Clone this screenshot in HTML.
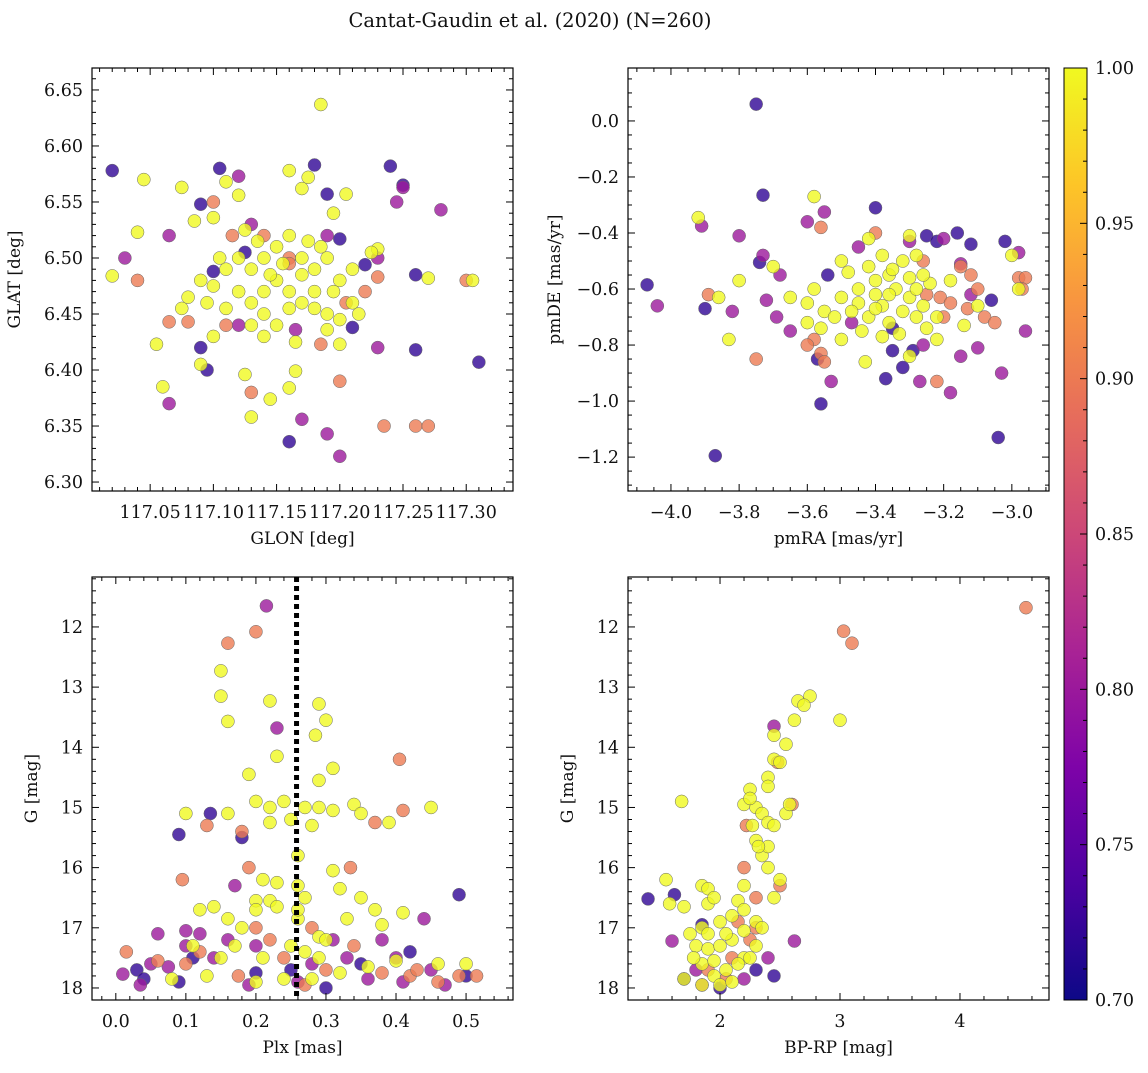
<!DOCTYPE html>
<html><head><meta charset="utf-8"><style>
body{margin:0;background:#fff}
svg text{font-family:"DejaVu Serif","Liberation Serif",serif;fill:#111}
</style></head><body>
<svg id="fig" width="1148" height="1068" viewBox="0 0 1148 1068">
<defs><linearGradient id="plasma" x1="0" y1="1" x2="0" y2="0">
<stop offset="0" stop-color="#0d0887"/><stop offset="0.125" stop-color="#4c02a1"/><stop offset="0.25" stop-color="#7e03a8"/><stop offset="0.375" stop-color="#a92395"/><stop offset="0.5" stop-color="#cc4778"/><stop offset="0.625" stop-color="#e66c5c"/><stop offset="0.75" stop-color="#f89540"/><stop offset="0.875" stop-color="#fdc527"/><stop offset="1" stop-color="#f0f921"/></linearGradient></defs>
<text x="530" y="27" text-anchor="middle" font-size="19.5">Cantat-Gaudin et al. (2020) (N=260)</text>
</svg>
<script>
// ---- Panel 1: GLON / GLAT ----
const p1Blue=[[117.02,6.578],[117.105,6.580],[117.18,6.583],[117.24,6.582],[117.25,6.565],[117.26,6.485],[117.31,6.407],[117.26,6.418],[117.16,6.336],[117.20,6.517],[117.21,6.438],[117.09,6.548],[117.10,6.488],[117.125,6.505],[117.19,6.557],[117.22,6.494],[117.09,6.42],[117.095,6.40]];
const p1Purple=[[117.03,6.50],[117.23,6.50],[117.245,6.55],[117.165,6.436],[117.17,6.356],[117.19,6.343],[117.20,6.323],[117.25,6.563],[117.12,6.573],[117.13,6.53],[117.065,6.52],[117.065,6.37],[117.12,6.44],[117.23,6.42],[117.28,6.543],[117.19,6.52]];
const p1Salmon=[[117.04,6.48],[117.065,6.443],[117.11,6.44],[117.13,6.38],[117.185,6.423],[117.20,6.39],[117.235,6.35],[117.26,6.35],[117.27,6.35],[117.30,6.48],[117.23,6.483],[117.16,6.50],[117.14,6.52],[117.115,6.52],[117.205,6.46],[117.22,6.47],[117.10,6.55],[117.08,6.443],[117.16,6.495]];
const p1Yellow=[[117.185,6.637],[117.045,6.57],[117.02,6.484],[117.04,6.523],[117.075,6.563],[117.085,6.533],[117.055,6.423],[117.06,6.385],[117.09,6.405],[117.1,6.43],[117.125,6.396],[117.13,6.358],[117.145,6.374],[117.16,6.384],[117.165,6.399],[117.2,6.423],[117.19,6.436],[117.305,6.48],[117.27,6.482],[117.23,6.508],[117.16,6.578],[117.17,6.562],[117.175,6.572],[117.195,6.54],[117.205,6.557],[117.12,6.556],[117.11,6.568],[117.1,6.536],[117.075,6.455],[117.08,6.465],
[117.12,6.50],[117.13,6.49],[117.14,6.50],[117.15,6.51],[117.16,6.52],[117.17,6.50],[117.18,6.49],[117.19,6.50],[117.2,6.48],[117.21,6.46],[117.12,6.47],[117.13,6.46],[117.14,6.47],[117.15,6.48],[117.16,6.47],[117.17,6.46],[117.18,6.47],[117.19,6.45],[117.14,6.45],[117.15,6.44],[117.13,6.44],[117.16,6.455],[117.17,6.485],[117.155,6.495],[117.145,6.485],[117.135,6.515],[117.125,6.525],[117.175,6.515],[117.185,6.51],[117.195,6.47],[117.11,6.49],[117.105,6.50],[117.09,6.48],[117.095,6.46],[117.21,6.49],[117.215,6.45],[117.225,6.505],[117.14,6.43],[117.165,6.425],[117.18,6.455],[117.2,6.445],[117.11,6.455],[117.1,6.475]];
// ---- Panel 2: pmRA / pmDE ----
const p2Blue=[[-3.75,0.06],[-4.07,-0.585],[-3.87,-1.195],[-3.56,-1.01],[-3.04,-1.13],[-3.73,-0.265],[-3.4,-0.31],[-3.74,-0.505],[-3.9,-0.67],[-3.54,-0.55],[-3.35,-0.82],[-3.37,-0.92],[-3.32,-0.88],[-3.25,-0.41],[-3.22,-0.43],[-3.16,-0.4],[-3.12,-0.44],[-3.02,-0.43],[-3.06,-0.64],[-3.29,-0.82],[-3.57,-0.85],[-3.35,-0.74]];
const p2Purple=[[-3.91,-0.375],[-3.6,-0.36],[-3.55,-0.325],[-3.8,-0.41],[-3.73,-0.48],[-3.68,-0.55],[-3.72,-0.64],[-3.69,-0.70],[-3.65,-0.75],[-3.53,-0.93],[-3.45,-0.45],[-3.3,-0.43],[-3.2,-0.42],[-3.15,-0.51],[-3.12,-0.62],[-3.1,-0.81],[-3.03,-0.9],[-2.98,-0.47],[-2.96,-0.75],[-3.18,-0.97],[-3.82,-0.68],[-4.04,-0.66],[-3.27,-0.93],[-3.15,-0.84],[-3.47,-0.72],[-3.26,-0.8]];
const p2Salmon=[[-3.89,-0.62],[-3.75,-0.85],[-3.56,-0.83],[-3.56,-0.38],[-3.4,-0.4],[-3.58,-0.78],[-3.6,-0.8],[-3.55,-0.86],[-3.22,-0.93],[-3.2,-0.7],[-3.15,-0.52],[-3.12,-0.55],[-3.1,-0.6],[-3.08,-0.7],[-3.05,-0.72],[-2.98,-0.56],[-2.96,-0.56],[-2.97,-0.6],[-3.21,-0.63],[-3.18,-0.65],[-3.25,-0.62],[-3.13,-0.67],[-3.26,-0.5]];
const p2Yellow=[[-3.92,-0.345],[-3.58,-0.27],[-3.83,-0.78],[-3.8,-0.57],[-3.86,-0.63],[-3.7,-0.52],[-3.65,-0.63],[-3.6,-0.65],[-3.58,-0.6],[-3.55,-0.68],[-3.6,-0.72],[-3.56,-0.74],[-3.5,-0.5],[-3.48,-0.54],[-3.45,-0.6],[-3.42,-0.42],[-3.38,-0.48],[-3.36,-0.55],[-3.0,-0.48],[-2.98,-0.6],[-3.14,-0.73],[-3.22,-0.78],[-3.28,-0.48],[-3.3,-0.41],[-3.5,-0.78],[-3.43,-0.86],[-3.3,-0.84],
[-3.45,-0.65],[-3.42,-0.7],[-3.4,-0.62],[-3.38,-0.66],[-3.36,-0.72],[-3.34,-0.6],[-3.32,-0.68],[-3.3,-0.63],[-3.28,-0.7],[-3.26,-0.66],[-3.24,-0.58],[-3.22,-0.7],[-3.4,-0.57],[-3.35,-0.53],[-3.3,-0.56],[-3.44,-0.75],[-3.38,-0.77],[-3.33,-0.76],[-3.28,-0.6],[-3.47,-0.68],[-3.5,-0.63],[-3.25,-0.74],[-3.42,-0.52],[-3.36,-0.62],[-3.18,-0.57],[-3.32,-0.5],[-3.26,-0.55],[-3.4,-0.67],[-3.1,-0.66],[-3.52,-0.7]];
// ---- Panel 3: Plx / G ----
const p3Blue=[[0.09,15.45],[0.135,15.1],[0.03,17.7],[0.04,17.85],[0.11,17.5],[0.2,17.75],[0.25,17.7],[0.49,16.45],[0.5,17.8],[0.42,17.4],[0.18,15.5],[0.35,17.6],[0.3,18.0],[0.09,17.9]];
const p3Purple=[[0.215,11.65],[0.23,13.68],[0.01,17.77],[0.035,17.95],[0.05,17.6],[0.075,17.65],[0.1,17.05],[0.1,17.3],[0.12,17.1],[0.14,17.5],[0.16,17.2],[0.2,17.3],[0.26,17.9],[0.33,17.5],[0.38,17.2],[0.41,17.9],[0.44,16.85],[0.47,17.95],[0.45,17.7],[0.17,16.3],[0.31,17.2],[0.28,17.6],[0.36,17.85],[0.4,17.5],[0.19,17.95],[0.06,17.1]];
const p3Salmon=[[0.16,12.27],[0.2,12.08],[0.405,14.2],[0.13,15.3],[0.18,15.4],[0.19,16.0],[0.095,16.2],[0.335,16.0],[0.37,15.25],[0.41,15.05],[0.015,17.4],[0.06,17.55],[0.1,17.6],[0.12,17.4],[0.2,17.0],[0.24,17.5],[0.27,17.95],[0.3,17.7],[0.34,17.3],[0.38,17.75],[0.42,17.8],[0.46,17.9],[0.49,17.8],[0.515,17.8],[0.22,17.2],[0.28,17.0],[0.175,17.8],[0.43,17.7]];
const p3Yellow=[[0.22,13.23],[0.15,13.15],[0.16,13.57],[0.15,12.73],[0.29,13.28],[0.3,13.55],[0.285,13.8],[0.23,14.15],[0.31,14.35],[0.19,14.45],[0.29,14.55],[0.24,14.9],[0.2,14.9],[0.22,15.0],[0.27,15.0],[0.29,15.0],[0.31,15.05],[0.34,14.95],[0.35,15.1],[0.45,15.0],[0.39,15.25],[0.1,15.1],[0.16,15.1],[0.22,15.25],[0.25,15.2],[0.28,15.3],[0.26,15.8],[0.31,16.05],[0.23,16.25],[0.21,16.2],[0.26,16.3],[0.22,16.55],[0.2,16.55],[0.27,16.5],[0.32,16.35],[0.35,16.5],[0.37,16.7],[0.41,16.75],[0.14,16.65],[0.12,16.7],[0.16,16.85],[0.18,17.0],[0.26,16.85],[0.29,17.15],[0.33,16.85],[0.38,16.95],[0.46,17.6],[0.5,17.6],[0.08,17.85],[0.13,17.8],[0.2,17.9],[0.24,17.85],[0.28,17.85],[0.29,17.5],[0.32,17.75],[0.36,17.65],[0.40,17.55],[0.17,17.3],[0.25,17.3],[0.21,17.5],[0.27,17.4],[0.3,17.2],[0.15,17.5],[0.11,17.3],[0.2,16.7],[0.23,16.65],[0.26,16.7]];
// ---- Panel 4: BP-RP / G ----
const p4Blue=[[1.4,16.52],[1.62,16.45],[1.85,16.95],[2.45,17.8],[2.3,17.7],[2.0,18.0],[1.7,17.85]];
const p4Purple=[[2.45,13.65],[2.62,17.22],[1.6,17.22],[2.4,17.5],[1.85,17.95],[1.8,17.7],[2.2,17.85]];
const p4Salmon=[[4.55,11.68],[3.03,12.07],[3.1,12.27],[2.48,14.25],[2.6,14.95],[2.22,15.3],[2.2,16.0],[2.3,16.5],[2.5,16.3],[2.15,16.9],[2.1,17.5],[2.3,17.0],[1.9,17.7],[2.05,17.85],[2.25,17.2]];
const p4Yellow=[[2.65,13.23],[2.75,13.15],[2.7,13.3],[2.62,13.55],[3.0,13.55],[2.45,13.8],[2.55,13.95],[2.45,14.2],[2.5,14.25],[2.4,14.5],[2.4,14.65],[2.25,14.7],[2.2,14.95],[2.3,15.0],[2.35,15.1],[2.4,15.25],[2.45,15.3],[2.55,15.1],[2.58,14.95],[1.68,14.9],[2.4,16.0],[2.5,16.2],[2.45,16.5],[2.2,16.3],[2.15,16.55],[2.2,16.7],[1.55,16.2],[1.58,16.6],[1.7,16.65],[1.85,16.3],[1.9,16.35],[1.9,16.6],[1.95,16.5],[2.1,16.8],[2.0,16.9],[2.3,16.9],[2.35,17.0],[2.3,17.3],[1.85,17.0],[1.75,17.1],[1.8,17.3],[1.9,17.35],[2.0,17.3],[2.1,17.2],[2.2,17.5],[1.7,17.85],[1.85,17.6],[1.95,17.8],[2.05,17.7],[2.15,17.6],[1.85,17.95],[2.0,17.95],[1.78,17.5],[1.95,17.55],[2.1,17.9],[2.25,17.5],[1.9,17.1],[2.05,17.1],[2.2,17.05],[2.27,15.3],[2.3,15.55],[2.35,15.8],[2.4,15.65],[2.25,14.85],[2.32,15.65]];
const probLevels=[0.72,0.80,0.90,1.0];
const plxLine=0.258;
const cbTicks=["0.70","0.75","0.80","0.85","0.90","0.95","1.00"];

const NS="http://www.w3.org/2000/svg";
const svg=document.getElementById('fig');
function mk(t,a,p){const e=document.createElementNS(NS,t);for(const k in a)e.setAttribute(k,a[k]);(p||svg).appendChild(e);return e;}
const stops=[[0,[13,8,135]],[0.125,[76,2,161]],[0.25,[126,3,168]],[0.375,[169,35,149]],[0.5,[204,71,120]],[0.625,[230,108,92]],[0.75,[248,149,64]],[0.875,[253,197,39]],[1,[240,249,33]]];
function plasma(p){let t=(p-0.7)/0.3;t=Math.max(0,Math.min(1,t));for(let i=1;i<stops.length;i++){if(t<=stops[i][0]){const a=stops[i-1],b=stops[i];const f=(t-a[0])/(b[0]-a[0]);const c=a[1].map((v,j)=>Math.round(v+(b[1][j]-v)*f));return `rgb(${c})`;}}return 'rgb(240,249,33)';}

const TF=17.5, AF=17;
function panel(o){
  const {x0,x1,y0,y1,xmin,xmax,ymin,ymax,inv,name}=o;
  const g=mk('g',{});
  
  
  const sx=v=>x0+(v-xmin)/(xmax-xmin)*(x1-x0);
  const sy=v=>inv? y0+(v-ymin)/(ymax-ymin)*(y1-y0) : y1-(v-ymin)/(ymax-ymin)*(y1-y0);
  const sets=o.series;
  sets.forEach((s,si)=>{const col=plasma(probLevels[si]);s.forEach(d=>{
    const c=mk('circle',{cx:sx(d[0]),cy:sy(d[1]),r:6.5,fill:col,'fill-opacity':0.8,stroke:'#666','stroke-width':0.5},g);
    
    
  });});
  if(o.vline!==undefined){const l=mk('line',{x1:sx(o.vline),x2:sx(o.vline),y1:y0,y2:y1,stroke:'#000','stroke-width':5,'stroke-dasharray':'5,4'},g);
    }
  mk('rect',{x:x0,y:y0,width:x1-x0,height:y1-y0,fill:'none',stroke:'#000','stroke-width':1.2},g);
  const eps=1e-9;
  for(let v=Math.ceil(xmin/o.xminor-eps)*o.xminor;v<=xmax+eps;v+=o.xminor){const X=sx(v);
    const major=Math.abs(v/o.xmajor-Math.round(v/o.xmajor))<1e-6;const L=major?7:4;
    mk('line',{x1:X,x2:X,y1:y1,y2:y1-L,stroke:'#000','stroke-width':1},g);mk('line',{x1:X,x2:X,y1:y0,y2:y0+L,stroke:'#000','stroke-width':1},g);}
  o.xlabels.forEach(v=>{const t=mk('text',{x:sx(v),y:y1+27,'text-anchor':'middle','font-size':TF},g);t.textContent=v.toFixed(o.xdec).replace('-','\u2212');
    });
  for(let v=Math.ceil(ymin/o.yminor-eps)*o.yminor;v<=ymax+eps;v+=o.yminor){const Y=sy(v);
    const major=Math.abs(v/o.ymajor-Math.round(v/o.ymajor))<1e-6;const L=major?7:4;
    mk('line',{x1:x0,x2:x0+L,y1:Y,y2:Y,stroke:'#000','stroke-width':1},g);mk('line',{x1:x1,x2:x1-L,y1:Y,y2:Y,stroke:'#000','stroke-width':1},g);}
  o.ylabels.forEach(v=>{const t=mk('text',{x:x0-9,y:sy(v)+6,'text-anchor':'end','font-size':TF},g);t.textContent=v.toFixed(o.ydec).replace('-','\u2212');
    });
  const xt=mk('text',{x:(x0+x1)/2,y:y1+53,'text-anchor':'middle','font-size':AF},g);xt.textContent=o.xt;
  
  const yx=x0-o.ytOff,yy=(y0+y1)/2;
  const yt=mk('text',{x:yx,y:yy,'text-anchor':'middle','font-size':AF,transform:`rotate(-90 ${yx} ${yy})`},g);yt.textContent=o.yt;
  
}
function rng(a,b,s){const r=[];for(let v=a;v<=b+1e-9;v+=s)r.push(+v.toFixed(6));return r;}
panel({name:'glon-glat-panel',x0:92,x1:513,y0:68,y1:491,xmin:117.004,xmax:117.337,ymin:6.292,ymax:6.6696,xminor:0.01,xmajor:0.05,yminor:0.01,ymajor:0.05,
 xlabels:rng(117.05,117.30,0.05),xdec:2,ylabels:rng(6.30,6.65,0.05),ydec:2,xt:'GLON [deg]',yt:'GLAT [deg]',ytOff:72,series:[p1Blue,p1Purple,p1Salmon,p1Yellow]});
panel({name:'proper-motion-panel',x0:628,x1:1049,y0:68,y1:491,xmin:-4.126,xmax:-2.891,ymin:-1.321,ymax:0.189,xminor:0.05,xmajor:0.2,yminor:0.05,ymajor:0.2,
 xlabels:rng(-4.0,-3.0,0.2),xdec:1,ylabels:rng(-1.2,0.0,0.2),ydec:1,xt:'pmRA [mas/yr]',yt:'pmDE [mas/yr]',ytOff:68,series:[p2Blue,p2Purple,p2Salmon,p2Yellow]});
panel({name:'plx-g-panel',x0:92,x1:513,y0:577,y1:1000,xmin:-0.034,xmax:0.567,ymin:11.17,ymax:18.2,inv:true,xminor:0.02,xmajor:0.1,yminor:0.2,ymajor:1,
 xlabels:rng(0,0.5,0.1),xdec:1,ylabels:rng(12,18,1),ydec:0,xt:'Plx [mas]',yt:'G [mag]',ytOff:55,vline:plxLine,series:[p3Blue,p3Purple,p3Salmon,p3Yellow]});
panel({name:'cmd-panel',x0:628,x1:1049,y0:577,y1:1000,xmin:1.233,xmax:4.742,ymin:11.17,ymax:18.2,inv:true,xminor:0.2,xmajor:1,yminor:0.2,ymajor:1,
 xlabels:[2,3,4],xdec:0,ylabels:rng(12,18,1),ydec:0,xt:'BP-RP [mag]',yt:'G [mag]',ytOff:55,series:[p4Blue,p4Purple,p4Salmon,p4Yellow]});
const cb=mk('g',{});


mk('rect',{x:1064,y:68,width:23,height:932,fill:'url(#plasma)',stroke:'#000','stroke-width':1},cb);
for(let i=0;i<=30;i++){const y=1000-i*932/30;const maj=i%5==0;mk('line',{x1:1087,x2:1087-(maj?7:4),y1:y,y2:y,stroke:'#000','stroke-width':1},cb);}
cbTicks.forEach((s,i)=>{const y=1000-(parseFloat(s)-0.7)/0.3*932;const t=mk('text',{x:1095,y:y+6,'font-size':TF},cb);t.textContent=s;
 });
</script>
</body></html>
